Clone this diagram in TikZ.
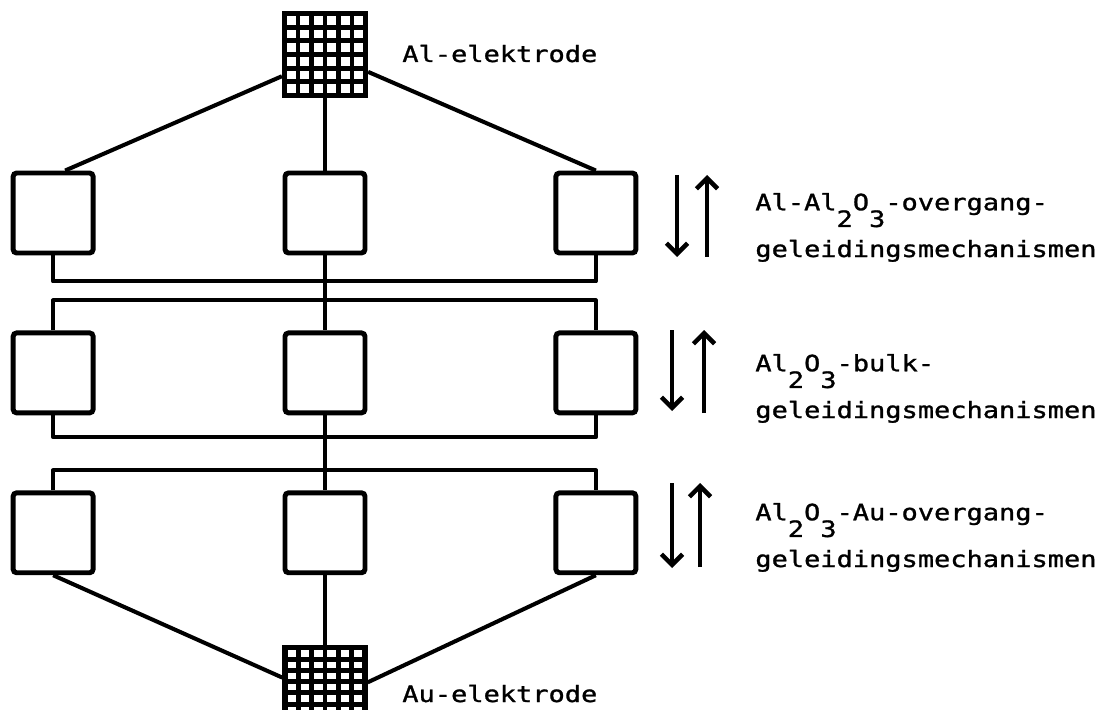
\documentclass[tikz,border=0pt]{standalone}
\usepackage{fontspec}
\newfontfamily\typfont[FakeStretch=1.2, FakeBold=1.2]{DejaVu Sans Mono}
\usepackage{tikz}
\usetikzlibrary{arrows.meta, positioning, calc}
\newcommand{\laag}[1]{\raisebox{-9.5pt}{#1}}
\tikzset{
  %% ---- boxes ----
  mech/.style = {rectangle, rounded corners=2pt, draw=black,
                 line width=2.8pt, fill=white, inner sep=0pt,
                 minimum width=1.6cm, minimum height=1.6cm},
  elektrode/.style 2 args = {rectangle, draw=black, line width=3pt,
                 fill=white, inner sep=0pt,
                 path picture={
                   \foreach \i in {1,...,#1}
                     \draw[line width=2.8pt]
                       ($(path picture bounding box.south west)!{\i/(#1+1)}!(path picture bounding box.south east)$)
                    -- ($(path picture bounding box.north west)!{\i/(#1+1)}!(path picture bounding box.north east)$);
                   \foreach \i in {1,...,#2}
                     \draw[line width=2.8pt]
                       ($(path picture bounding box.south west)!{\i/(#2+1)}!(path picture bounding box.north west)$)
                    -- ($(path picture bounding box.south east)!{\i/(#2+1)}!(path picture bounding box.north east)$);
                 }},
  tekst/.style = {font=\typfont\fontsize{12.8}{26.6}\selectfont,
                  inner sep=0pt, align=left, anchor=base west},
  %% ---- lines ----
  lijn/.style = {line width=2.3pt, line join=round},
  pijl/.style = {-{Straight Barb[length=6pt, width=12pt]}, line width=2.6pt},
}
\begin{document}
\begin{tikzpicture}[x=0.02cm, y=-0.02cm]
\useasboundingbox (0,0) rectangle (1097,709);

% middle column of mechanism boxes
\node[mech] (c1) at (325,213) {};
\node[mech, below=1.5cm of c1] (c2) {};
\node[mech, below=1.5cm of c2] (c3) {};

% left and right columns
\node[mech, left=3.74cm of c1]  (l1) {};
\node[mech, right=3.72cm of c1] (r1) {};
\node[mech, left=3.74cm of c2]  (l2) {};
\node[mech, right=3.72cm of c2] (r2) {};
\node[mech, left=3.74cm of c3]  (l3) {};
\node[mech, right=3.72cm of c3] (r3) {};

% electrodes
\node[elektrode={5}{5}, minimum width=1.62cm, minimum height=1.64cm,
      above=1.45cm of c1] (topel) {};
\node[elektrode={5}{7}, minimum width=1.6cm, minimum height=1.8cm,
      below=1.4cm of c3] (botel) {};

% labels (base = last line)
\node[tekst] (altxt) at (402,62)  {Al-elektrode};
\node[tekst] (autxt) at (402,702) {Au-elektrode};
\node[tekst] (mech1) at (755,257)
  {Al-Al\laag{2}O\laag{3}-overgang-\\geleidingsmechanismen};
\node[tekst] (mech2) at (755,418)
  {Al\laag{2}O\laag{3}-bulk-\\geleidingsmechanismen};
\node[tekst] (mech3) at (755,567)
  {Al\laag{2}O\laag{3}-Au-overgang-\\geleidingsmechanismen};

% bus levels between the rows
\coordinate (bus1) at ($(c1.south)+(0,26)$);
\coordinate (bus2) at ($(c2.north)+(0,-30)$);
\coordinate (bus3) at ($(c2.south)+(0,22)$);
\coordinate (bus4) at ($(c3.north)+(0,-20)$);

% connections
\draw[lijn] ($(topel.south west)!0.25!(topel.north west)$) -- ($(l1.north)+(12,0)$);
\draw[lijn] ($(topel.south east)!0.3!(topel.north east)$)  -- (r1.north);
\draw[lijn] (topel) -- (c1);
\draw[lijn] (c1) -- (c2);
\draw[lijn] (c2) -- (c3);
\draw[lijn] (c3) -- (botel);
\draw[lijn] (l1.south) |- (bus1) -| (r1.south);
\draw[lijn] (l2.north) |- (bus2) -| (r2.north);
\draw[lijn] (l2.south) |- (bus3) -| (r2.south);
\draw[lijn] (l3.north) |- (bus4) -| (r3.north);
\draw[lijn] (l3.south) -- ($(botel.north west)!0.34!(botel.south west)$);
\draw[lijn] (r3.south) -- ($(botel.north east)!0.39!(botel.south east)$);

% direction arrows
\coordinate (d1a) at (677,175); \coordinate (d1b) at (677,257);
\coordinate (u1a) at (707,257); \coordinate (u1b) at (707,175);
\coordinate (d2a) at (672,330); \coordinate (d2b) at (672,411);
\coordinate (u2a) at (704,413); \coordinate (u2b) at (704,330);
\coordinate (d3a) at (672,483); \coordinate (d3b) at (672,568);
\coordinate (u3a) at (700,567); \coordinate (u3b) at (700,483);
\draw[pijl] (d1a) -- (d1b);
\draw[pijl] (u1a) -- (u1b);
\draw[pijl] (d2a) -- (d2b);
\draw[pijl] (u2a) -- (u2b);
\draw[pijl] (d3a) -- (d3b);
\draw[pijl] (u3a) -- (u3b);

\end{tikzpicture}
\end{document}
